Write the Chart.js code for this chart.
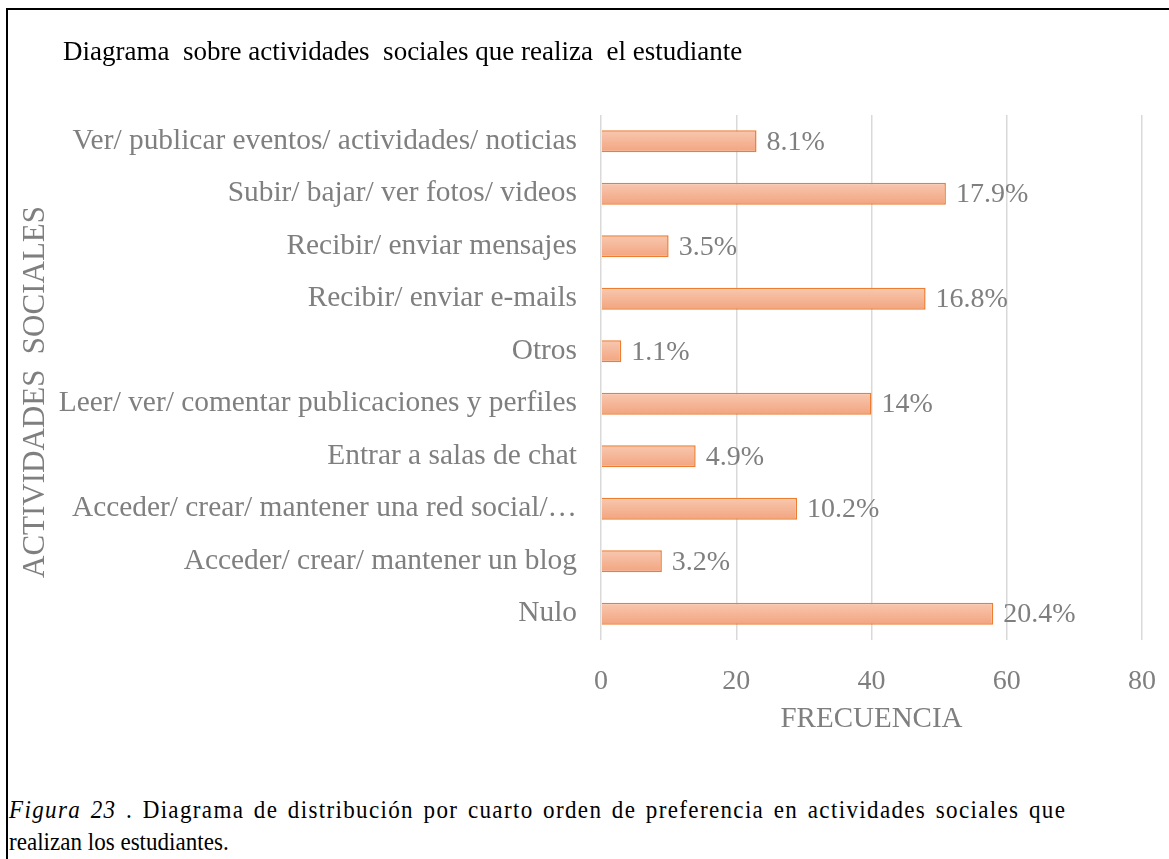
<!DOCTYPE html>
<html>
<head>
<meta charset="utf-8">
<script src="https://cdn.jsdelivr.net/npm/chart.js@4/dist/chart.umd.min.js"></script>
<style>
  html, body { margin:0; padding:0; background:#fff; width:1169px; height:859px; overflow:hidden; }
  #frame { position:absolute; left:6px; top:8px; width:1163px; height:851px; border-left:2px solid #000; border-top:2px solid #000; box-sizing:border-box; }
  #wrap { position:absolute; left:0; top:0; width:1169px; height:737px; }
  #caption { position:absolute; left:9px; top:794px; font-family:"Liberation Serif", "Times New Roman", serif; font-size:26px; line-height:32px; color:#000; transform:scaleX(0.887); transform-origin:left top; }
  #cap1 { width:1192px; text-align:justify; text-align-last:justify; white-space:nowrap; letter-spacing:1.5px; }
  #cap2 { white-space:nowrap; }
</style>
</head>
<body>
<div id="frame"></div>
<div id="wrap"><canvas id="c"></canvas></div>
<div id="caption"><div id="cap1"><i>Figura 23</i> . Diagrama de distribución por cuarto orden de preferencia en actividades sociales que</div><div id="cap2">realizan los estudiantes.</div></div>
<script>
const categories = [
  "Ver/ publicar eventos/ actividades/ noticias",
  "Subir/ bajar/ ver fotos/ videos",
  "Recibir/ enviar mensajes",
  "Recibir/ enviar e-mails",
  "Otros",
  "Leer/ ver/ comentar publicaciones y perfiles",
  "Entrar a salas de chat",
  "Acceder/ crear/ mantener una red social/\u2026",
  "Acceder/ crear/ mantener un blog",
  "Nulo"
];
const frecuencia = [23, 51, 10, 48, 3, 40, 14, 29, 9, 58];
const porcentajes = ["8.1%", "17.9%", "3.5%", "16.8%", "1.1%", "14%", "4.9%", "10.2%", "3.2%", "20.4%"];
const xTicks = [0, 20, 40, 60, 80];
const chartTitle = "Diagrama  sobre actividades  sociales que realiza  el estudiante";
const yTitle = "ACTIVIDADES  SOCIALES";
const xTitle = "FRECUENCIA";

const SERIF = '"Liberation Serif", "Times New Roman", serif';
const GRAY = '#7f7f7f';

const textPlugin = {
  id: 'texts',
  afterDraw(chart) {
    const ctx = chart.ctx;
    ctx.save();
    ctx.font = '27px ' + SERIF;
    ctx.fillStyle = '#000';
    ctx.textAlign = 'left';
    ctx.textBaseline = 'middle';
    ctx.fillText(chartTitle, 63, 53);
    ctx.font = '31px ' + SERIF;
    ctx.fillStyle = GRAY;
    ctx.translate(36, 392);
    ctx.rotate(-Math.PI / 2);
    ctx.textAlign = 'center';
    ctx.fillText(yTitle, 0, 0);
    ctx.restore();
  },
  afterDatasetsDraw(chart) {
    const ctx = chart.ctx;
    const meta = chart.getDatasetMeta(0);
    ctx.save();
    ctx.font = '28px ' + SERIF;
    ctx.fillStyle = GRAY;
    ctx.textAlign = 'left';
    ctx.textBaseline = 'middle';
    meta.data.forEach((bar, i) => {
      ctx.fillText(porcentajes[i], bar.x + 10, bar.y + 1);
    });
    ctx.restore();
  }
};

new Chart(document.getElementById('c'), {
  type: 'bar',
  data: {
    labels: categories,
    datasets: [{
      data: frecuencia,
      backgroundColor: (c) => {
        const chart = c.chart;
        if (!chart.chartArea || !chart.scales.y) return '#f5b394';
        const y = chart.scales.y.getPixelForValue(c.dataIndex);
        const g = chart.ctx.createLinearGradient(0, y - 11, 0, y + 11);
        g.addColorStop(0, '#f8c8b0');
        g.addColorStop(1, '#f2a47f');
        return g;
      },
      borderColor: '#ed7d31',
      borderWidth: 1.5,
      barPercentage: 0.42,
      categoryPercentage: 1
    }]
  },
  options: {
    indexAxis: 'y',
    responsive: true,
    maintainAspectRatio: false,
    animation: false,
    layout: { padding: { left: 0, right: 27, top: 115, bottom: 0 } },
    plugins: {
      legend: { display: false },
      tooltip: { enabled: false },
      title: { display: false }
    },
    scales: {
      x: {
        min: 0, max: 80,
        afterBuildTicks: (s) => { s.ticks = xTicks.map(v => ({ value: v })); },
        grid: { color: '#d9d9d9', lineWidth: 1.5, drawTicks: false },
        border: { display: false },
        ticks: { color: GRAY, font: { family: SERIF, size: 28 }, padding: 25 },
        title: { display: true, text: xTitle, color: GRAY, font: { family: SERIF, size: 29 }, padding: { top: 0, bottom: 0 } },
        afterFit: (s) => { s.height = 97; s.paddingRight = 0; s.paddingLeft = 0; }
      },
      y: {
        grid: { display: false, drawTicks: false },
        border: { display: false },
        ticks: { color: GRAY, font: { family: SERIF, size: 29.4 }, padding: 24, autoSkip: false },
        afterFit: (s) => { s.width = 601; }
      }
    }
  },
  plugins: [textPlugin]
});
</script>
</body>
</html>
